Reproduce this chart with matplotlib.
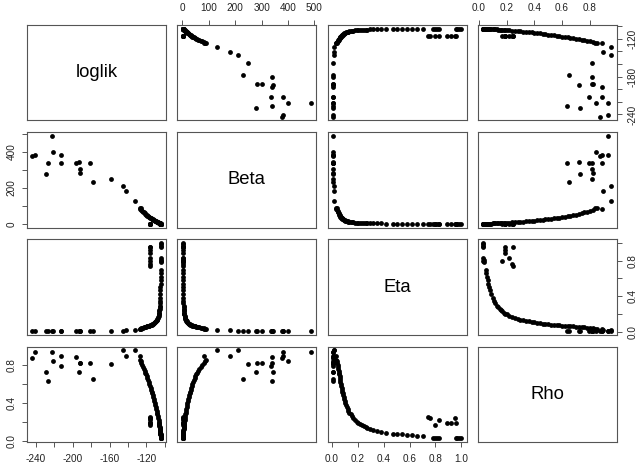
import matplotlib
matplotlib.use('Agg')
import matplotlib.pyplot as plt
import numpy as np

plt.rcParams['font.family'] = ['Liberation Sans', 'DejaVu Sans']

names = ['loglik', 'Beta', 'Eta', 'Rho']

# ---- main ridge of the profile (dense curve) ----
main_rho = [0.05, 0.055, 0.06, 0.065, 0.07, 0.075, 0.08, 0.09, 0.10, 0.11,
            0.12, 0.13, 0.14, 0.15, 0.16, 0.17, 0.18, 0.19, 0.20, 0.22,
            0.24, 0.26, 0.28, 0.30, 0.32, 0.34, 0.36, 0.38, 0.40, 0.42,
            0.44, 0.46, 0.48, 0.50, 0.52, 0.54, 0.56, 0.58, 0.60, 0.62,
            0.64, 0.66, 0.68, 0.70, 0.72, 0.74, 0.76, 0.78, 0.80, 0.82, 0.84]
main_eta = [0.70, 0.66, 0.62, 0.58, 0.54, 0.50, 0.47, 0.42, 0.38, 0.345,
            0.32, 0.295, 0.275, 0.26, 0.245, 0.23, 0.215, 0.205, 0.195, 0.18,
            0.165, 0.155, 0.145, 0.135, 0.128, 0.121, 0.115, 0.109, 0.104, 0.099,
            0.095, 0.091, 0.087, 0.084, 0.081, 0.078, 0.075, 0.072, 0.069, 0.066,
            0.063, 0.061, 0.059, 0.057, 0.055, 0.052, 0.050, 0.047, 0.044, 0.040, 0.036]
main_loglik = [-104.46, -104.51, -104.56, -104.61, -104.67, -104.72, -104.78, -104.90, -105.02, -105.15,
               -105.28, -105.41, -105.55, -105.70, -105.84, -106.00, -106.15, -106.31, -106.48, -106.83,
               -107.19, -107.57, -107.97, -108.38, -108.81, -109.26, -109.73, -110.22, -110.72, -111.24,
               -111.78, -112.34, -112.91, -113.50, -114.11, -114.74, -115.38, -116.04, -116.72, -117.42,
               -118.13, -118.86, -119.61, -120.38, -121.17, -121.97, -122.79, -123.63, -124.48, -125.35, -126.24]
main_beta = [1.5, 1.7, 1.9, 2.0, 2.2, 2.4, 2.5, 2.8, 3.0, 3.4,
             3.8, 4.2, 4.6, 5.0, 5.4, 5.8, 6.2, 6.6, 7.0, 8.0,
             9.0, 10.0, 11.0, 12.0, 13.4, 14.8, 16.2, 17.6, 19.0, 20.8,
             22.6, 24.4, 26.2, 28.0, 30.0, 32.0, 34.0, 36.0, 38.0, 40.8,
             43.6, 46.4, 49.2, 52.0, 56.0, 60.0, 64.0, 69.0, 74.0, 80.0, 86.0]

# ---- high-Eta points at the lowest Rho ----
edge_loglik = [-104.2, -104.2, -104.3, -104.2, -104.1, -104.1, -104.0, -104.0]
edge_beta = [0.6, 0.5, 0.5, 0.6, 0.4, 0.4, 0.3, 0.3]
edge_eta = [0.78, 0.795, 0.81, 0.825, 0.955, 0.97, 0.985, 1.0]
edge_rho = [0.036, 0.034, 0.035, 0.033, 0.030, 0.029, 0.030, 0.031]

# ---- secondary cluster (Rho ~ 0.2, Eta high) ----
clus_loglik = [-116.0, -116.3, -115.8, -116.1, -116.4, -116.2, -115.9, -116.0]
clus_beta = [2.0, 2.2, 1.5, 1.8, 2.0, 2.1, 2.5, 1.9]
clus_eta = [0.74, 0.76, 0.80, 0.83, 0.89, 0.92, 0.95, 0.955]
clus_rho = [0.25, 0.24, 0.17, 0.22, 0.19, 0.19, 0.245, 0.19]

# ---- scattered low-likelihood points ----
out_loglik = [-243.7, -241.1, -229.1, -226.3, -222.6, -221.9, -212.8, -212.8, -196.2, -193.7,
              -192.6, -192.6, -181.0, -178.0, -158.4, -145.4, -141.8, -132.8, -126.6, -127.3]
out_beta = [376, 381, 278, 339, 488, 400, 381, 336, 339, 342,
            302, 283, 339, 231, 250, 209, 181, 129, 89, 83]
out_eta = [0.006, 0.006, 0.007, 0.007, 0.006, 0.007, 0.007, 0.008, 0.008, 0.008,
           0.009, 0.009, 0.009, 0.010, 0.011, 0.013, 0.015, 0.020, 0.030, 0.033]
out_rho = [0.873, 0.932, 0.727, 0.636, 0.932, 0.845, 0.890, 0.790, 0.884, 0.723,
           0.815, 0.825, 0.815, 0.653, 0.814, 0.953, 0.897, 0.955, 0.850, 0.890]

data = {
    'loglik': np.array(main_loglik + edge_loglik + clus_loglik + out_loglik),
    'Beta': np.array(main_beta + edge_beta + clus_beta + out_beta, dtype=float),
    'Eta': np.array(main_eta + edge_eta + clus_eta + out_eta),
    'Rho': np.array(main_rho + edge_rho + clus_rho + out_rho),
}

tick_vals = {
    'loglik': [-240, -220, -200, -180, -160, -140, -120, -100],
    'Beta': [0, 100, 200, 300, 400, 500],
    'Eta': [0.0, 0.2, 0.4, 0.6, 0.8, 1.0],
    'Rho': [0.0, 0.2, 0.4, 0.6, 0.8],
}
fmt = {'loglik': lambda v: '%d' % v, 'Beta': lambda v: '%d' % v,
       'Eta': lambda v: '%.1f' % v, 'Rho': lambda v: '%.1f' % v}
# labels shown on each outer side (others omitted as R does for crowding)
side_labels = {
    ('bottom', 'loglik'): [-240, -200, -160, -120],
    ('bottom', 'Eta'): [0.0, 0.2, 0.4, 0.6, 0.8, 1.0],
    ('top', 'Beta'): [0, 100, 200, 300, 400, 500],
    ('top', 'Rho'): [0.0, 0.2, 0.4, 0.6, 0.8],
    ('left', 'Beta'): [0, 200, 400],
    ('left', 'Rho'): [0.0, 0.4, 0.8],
    ('right', 'loglik'): [-240, -180, -120],
    ('right', 'Eta'): [0.0, 0.4, 0.8],
}

def labels_for(side, name):
    keep = side_labels[(side, name)]
    out = []
    for v in tick_vals[name]:
        out.append(fmt[name](v) if any(abs(v - k) < 1e-9 for k in keep) else '')
    return out

W, H = 643, 468
fig = plt.figure(figsize=(W / 100, H / 100), dpi=100)
left0, colstep, pw = 27.3, 150.1, 139.0
top0, rowstep, ph = 25.0, 107.2, 95.3

lims = {}
for n in names:
    v = data[n]
    r = v.max() - v.min()
    lims[n] = (v.min() - 0.04 * r, v.max() + 0.04 * r)

box_col = '#555555'
tick_kw = dict(direction='out', length=3.6, width=0.7, color=box_col,
               labelsize=7.2, labelcolor='#222222')

for i, yn in enumerate(names):
    for j, xn in enumerate(names):
        x0 = left0 + j * colstep
        y0 = top0 + i * rowstep
        ax = fig.add_axes([x0 / W, (H - y0 - ph) / H, pw / W, ph / H])
        for s in ax.spines.values():
            s.set_color(box_col)
            s.set_linewidth(0.8)
        ax.set_xticks([])
        ax.set_yticks([])
        if i == j:
            ax.set_xlim(0, 1)
            ax.set_ylim(0, 1)
            ax.text(0.5, 0.5, yn, ha='center', va='center', fontsize=13.3,
                    color='black')
        else:
            ax.scatter(data[xn], data[yn], s=12, c='black', linewidths=0)
            ax.set_xlim(*lims[xn])
            ax.set_ylim(*lims[yn])
        # outer axes, alternating like R pairs()
        if i == 0 and j % 2 == 1:
            ax.set_xticks(tick_vals[xn])
            ax.set_xticklabels(labels_for('top', xn))
            ax.xaxis.set_ticks_position('top')
            ax.tick_params(axis='x', top=True, bottom=False, labeltop=True,
                           labelbottom=False, pad=5.0, **tick_kw)
            ax.set_xlim(*lims[xn])
        if i == 3 and j % 2 == 0:
            ax.set_xticks(tick_vals[xn])
            ax.set_xticklabels(labels_for('bottom', xn))
            ax.tick_params(axis='x', bottom=True, labelbottom=True, pad=5.0,
                           **tick_kw)
            ax.set_xlim(*lims[xn])
        if j == 0 and i % 2 == 1:
            ax.set_yticks(tick_vals[yn])
            ax.set_yticklabels(labels_for('left', yn), rotation=90, va='center')
            ax.tick_params(axis='y', left=True, labelleft=True, pad=4.0,
                           **tick_kw)
            ax.set_ylim(*lims[yn])
        if j == 3 and i % 2 == 0:
            ax.set_yticks(tick_vals[yn])
            ax.set_yticklabels(labels_for('right', yn), rotation=90, va='center')
            ax.yaxis.set_ticks_position('right')
            ax.tick_params(axis='y', right=True, left=False, labelright=True,
                           labelleft=False, pad=4.0, **tick_kw)
            ax.set_ylim(*lims[yn])

fig.savefig('out.png', dpi=100, facecolor='white')
